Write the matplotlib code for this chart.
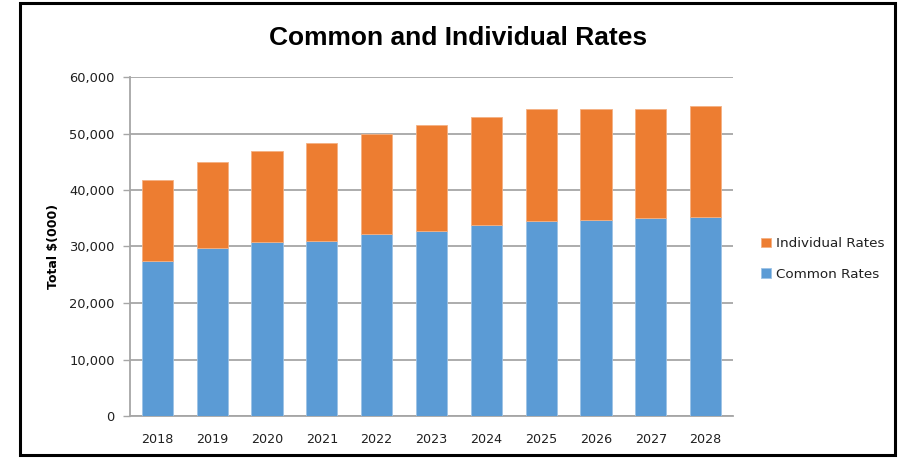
import matplotlib
matplotlib.use("Agg")
import matplotlib.pyplot as plt
import numpy as np
from matplotlib.patches import Rectangle
from matplotlib.ticker import FuncFormatter

plt.rcParams["font.family"] = ["DejaVu Sans"]

years = ["2018", "2019", "2020", "2021", "2022", "2023", "2024", "2025", "2026", "2027", "2028"]
common_rates = [27500, 29700, 30850, 31050, 32200, 32800, 33750, 34450, 34650, 35100, 35300]
totals = [41800, 44900, 46900, 48250, 49950, 51550, 52900, 54250, 54250, 54250, 54900]
individual_rates = [t - c for t, c in zip(totals, common_rates)]

blue = "#5B9BD5"
orange = "#ED7D31"
grid_c = "#A6A6A6"

fig = plt.figure(figsize=(8.99, 4.58), dpi=100)
fig.patch.set_facecolor("white")
fig.patches.append(Rectangle((20/899, 3/458), (895-20)/899, (455-3)/458,
                             transform=fig.transFigure, fill=False,
                             edgecolor="black", linewidth=2.2, zorder=10))

ax = fig.add_axes([130/899, 42/458, 603/899, 339/458])
x = np.arange(len(years))
ax.bar(x, common_rates, width=0.57, color=blue, edgecolor="#9DC3E6", linewidth=0.6,
       label="Common Rates", zorder=3)
ax.bar(x, individual_rates, bottom=common_rates, width=0.57, color=orange,
       edgecolor="#F4B183", linewidth=0.6, label="Individual Rates", zorder=3)

ax.set_xlim(-0.5, len(years) - 0.5)
ax.set_ylim(0, 60000)
ax.set_yticks(np.arange(0, 60001, 10000))
ax.yaxis.set_major_formatter(FuncFormatter(lambda v, p: f"{int(v):,}"))
ax.set_xticks(x)
ax.set_xticklabels(years)
ax.grid(axis="y", color=grid_c, linewidth=1.3, zorder=0)
ax.set_axisbelow(True)
for s in ["top", "right"]:
    ax.spines[s].set_visible(False)
for s in ["left", "bottom"]:
    ax.spines[s].set_color(grid_c)
    ax.spines[s].set_linewidth(1.3)
ax.tick_params(axis="y", length=5, color=grid_c, width=1.0, labelsize=9.4, pad=6,
               labelcolor="#202020")
ax.tick_params(axis="x", length=0, labelsize=9.2, pad=12, labelcolor="#202020")

ax.set_ylabel("Total $(000)", fontsize=9, fontweight="bold", labelpad=6.5)

fig.text(458/899, 1 - 38/458, "Common and Individual Rates", ha="center", va="center",
         fontsize=19, fontweight="bold", family=["Liberation Sans", "DejaVu Sans"])

handles, labels = ax.get_legend_handles_labels()
leg = fig.legend(handles[::-1], labels[::-1], loc="center left",
                 bbox_to_anchor=(749/899, 1 - 259/458), frameon=False,
                 fontsize=9.7, handlelength=0.7, handleheight=0.7,
                 handletextpad=0.4, labelspacing=1.3)
for t in leg.get_texts():
    t.set_color("#202020")

fig.savefig("out.png", dpi=100)
